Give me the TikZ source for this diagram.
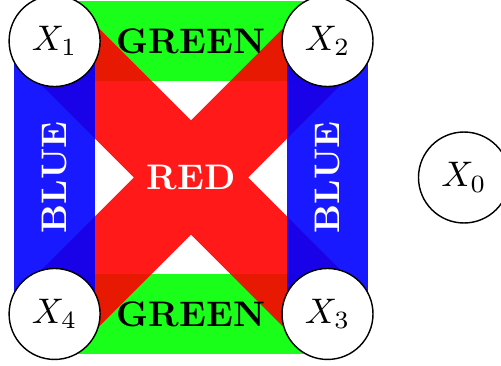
\documentclass[tikz,border=0pt]{standalone}
\begin{document}
\begin{tikzpicture}[x=0.9cm,y=0.9cm,
		vertex/.style={circle,draw,fill=white,minimum size=0.9cm,inner sep=0pt},
		band/.style={line width=0.8cm,draw opacity=0.9},
		lbl/.style={font=\bfseries}]
			\useasboundingbox (-0.6,-0.571) rectangle (4.907,3.451);
			\coordinate (P1) at (0,3);
			\coordinate (P2) at (3,3);
			\coordinate (P3) at (3,0);
			\coordinate (P4) at (0,0);
			\coordinate (P0) at (4.5,1.5);
			\coordinate (M) at (1.5,1.5);
			\draw [band,green] (P1) -- (P2) coordinate[midway] (Gt);
			\draw [band,green] (P4) -- (P3) coordinate[midway] (Gb);
			\draw [band,red] (P1) -- (P3) (P2) -- (P4);
			\draw [band,blue] (P1) -- (P4) coordinate[midway] (Bl);
			\draw [band,blue] (P2) -- (P3) coordinate[midway] (Br);
			\node [lbl] (green1) at (Gt) {GREEN};
			\node [lbl] (green2) at (Gb) {GREEN};
			\node [lbl,text=white] (red) at (M) {RED};
			\node [lbl,text=white,rotate=90] (blue1) at (Bl) {BLUE};
			\node [lbl,text=white,rotate=90] (blue2) at (Br) {BLUE};
			\node [vertex] (X1) at (P1) {$X_1$};
			\node [vertex] (X2) at (P2) {$X_2$};
			\node [vertex] (X3) at (P3) {$X_3$};
			\node [vertex] (X4) at (P4) {$X_4$};
			\node [vertex] (X0) at (P0) {$X_0$};
		\end{tikzpicture}
\end{document}
